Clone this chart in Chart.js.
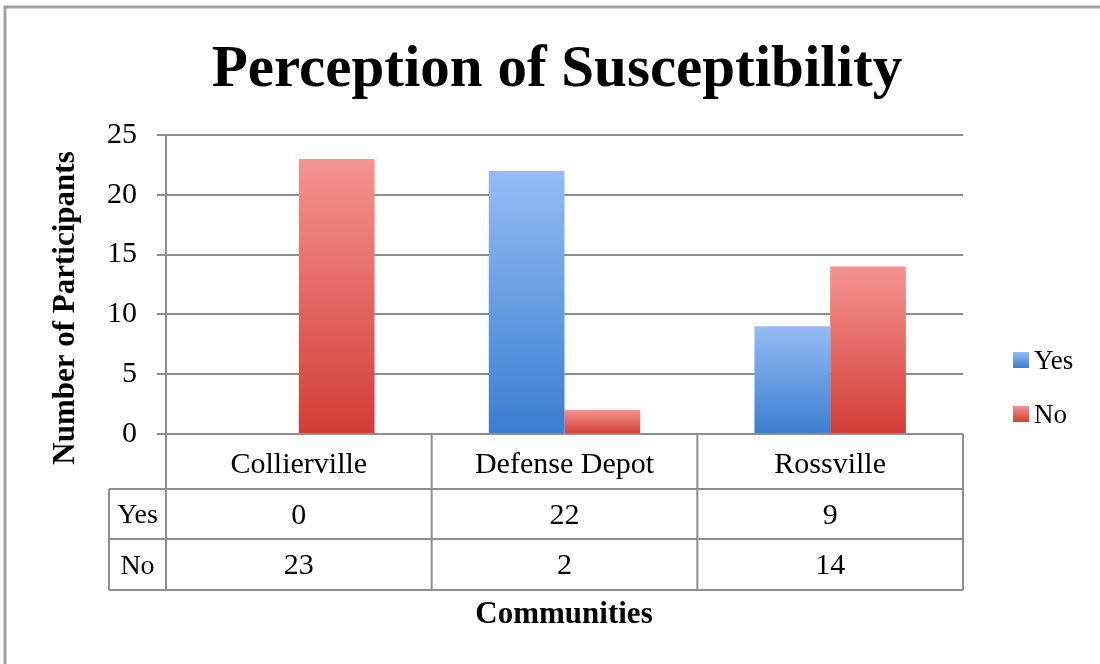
<!DOCTYPE html>
<html>
<head>
<meta charset="utf-8">
<script src="https://cdn.jsdelivr.net/npm/chart.js@4"></script>
<style>
  html, body { margin: 0; padding: 0; background: #fff; }
  canvas { display: block; }
</style>
</head>
<body>
<canvas id="chart" width="1100" height="664"></canvas>
<script>
const chartTitle = "Perception of Susceptibility";
const yAxisTitle = "Number of Participants";
const xAxisTitle = "Communities";
const categories = ["Collierville", "Defense Depot", "Rossville"];
const seriesNames = ["Yes", "No"];
const yesValues = [0, 22, 9];
const noValues = [23, 2, 14];
const yMax = 25;
const yStep = 5;

const serif = "'Liberation Serif', 'Times New Roman', serif";
const gridGray = "#8e8e8e";

const palette = {
    Yes: { top: "#94bcf4", bottom: "#3b7dd0", flat: "#4f8ad8" },
    No: { top: "#f59390", bottom: "#d23d36", flat: "#e0605a" }
};

function barFill(name) {
    return (context) => {
        const chart = context.chart;
        const c = palette[name];
        if (!chart.chartArea || context.raw == null) {
            return c.flat;
        }
        const y = chart.scales.y;
        const top = y.getPixelForValue(context.raw);
        const bottom = y.getPixelForValue(0);
        if (bottom - top < 1) {
            return c.flat;
        }
        const g = chart.ctx.createLinearGradient(0, top, 0, bottom);
        g.addColorStop(0, c.top);
        g.addColorStop(1, c.bottom);
        return g;
    };
}

// title, frame, axis titles, data table and legend drawn around the plot
const decorations = {
    id: "decorations",
    afterDraw(chart) {
        const ctx = chart.ctx;
        const area = chart.chartArea;
        const x = chart.scales.x;
        ctx.save();

        // outer frame (top and left edges visible)
        ctx.strokeStyle = "#a0a0a0";
        ctx.lineWidth = 3;
        ctx.beginPath();
        ctx.moveTo(5, 664);
        ctx.lineTo(5, 7);
        ctx.lineTo(1100, 7);
        ctx.stroke();

        // title
        ctx.fillStyle = "#000";
        ctx.textAlign = "center";
        ctx.textBaseline = "middle";
        ctx.font = "bold 59px " + serif;
        ctx.fillText(chartTitle, 557, 71);

        // y axis title
        ctx.save();
        ctx.translate(66, 308);
        ctx.rotate(-Math.PI / 2);
        ctx.font = "bold 31px " + serif;
        ctx.fillText(yAxisTitle, 0, 0);
        ctx.restore();

        // data table
        const rowH = [55, 50, 51];
        const headTop = area.bottom;
        const row1 = headTop + rowH[0];
        const row2 = row1 + rowH[1];
        const row3 = row2 + rowH[2];
        const labelLeft = 109;
        const half = (x.getPixelForValue(1) - x.getPixelForValue(0)) / 2;
        const edges = [area.left];
        categories.forEach((c, i) => edges.push(x.getPixelForValue(i) + half));

        ctx.strokeStyle = gridGray;
        ctx.lineWidth = 2;
        ctx.beginPath();
        edges.forEach((ex) => {
            ctx.moveTo(ex, headTop);
            ctx.lineTo(ex, row3);
        });
        ctx.moveTo(labelLeft, row1);
        ctx.lineTo(labelLeft, row3);
        [row1, row2, row3].forEach((ry) => {
            ctx.moveTo(labelLeft, ry);
            ctx.lineTo(area.right, ry);
        });
        ctx.stroke();

        ctx.fillStyle = "#000";
        ctx.font = "30px " + serif;
        categories.forEach((c, i) => {
            const cx = x.getPixelForValue(i);
            ctx.fillText(c, cx, headTop + rowH[0] / 2 + 4);
            ctx.fillText(String(yesValues[i]), cx, row1 + rowH[1] / 2 + 2);
            ctx.fillText(String(noValues[i]), cx, row2 + rowH[2] / 2 + 2);
        });
        ctx.font = "28px " + serif;
        ctx.fillText(seriesNames[0], (labelLeft + area.left) / 2, row1 + rowH[1] / 2 + 2);
        ctx.fillText(seriesNames[1], (labelLeft + area.left) / 2, row2 + rowH[2] / 2 + 2);

        // x axis title
        ctx.font = "bold 31px " + serif;
        ctx.fillText(xAxisTitle, 564, 615);

        // legend
        ctx.textAlign = "left";
        ctx.font = "27px " + serif;
        const legendY = [360, 414];
        chart.data.datasets.forEach((ds, i) => {
            const c = palette[ds.label];
            const ly = legendY[i];
            const g = ctx.createLinearGradient(0, ly - 8, 0, ly + 8);
            g.addColorStop(0, c.top);
            g.addColorStop(1, c.bottom);
            ctx.fillStyle = g;
            ctx.fillRect(1013, ly - 8, 16, 16);
            ctx.fillStyle = "#000";
            ctx.fillText(ds.label, 1034, ly + 2);
        });

        ctx.restore();
    }
};

new Chart(document.getElementById("chart"), {
    type: "bar",
    data: {
        labels: categories,
        datasets: [
            { label: seriesNames[0], data: yesValues, backgroundColor: barFill("Yes") },
            { label: seriesNames[1], data: noValues, backgroundColor: barFill("No") }
        ]
    },
    options: {
        responsive: false,
        animation: false,
        devicePixelRatio: 1,
        layout: { padding: { left: 0, right: 137, top: 135, bottom: 230 } },
        datasets: {
            bar: { categoryPercentage: 0.57, barPercentage: 1.0, borderWidth: 0 }
        },
        plugins: {
            legend: { display: false },
            title: { display: false },
            tooltip: { enabled: false }
        },
        scales: {
            x: {
                display: false
            },
            y: {
                min: 0,
                max: yMax,
                afterFit(scale) { scale.width = 166; },
                ticks: {
                    stepSize: yStep,
                    padding: 20,
                    color: "#000",
                    font: { family: serif, size: 30 }
                },
                grid: {
                    color: gridGray,
                    lineWidth: 2,
                    tickLength: 9,
                    drawTicks: true
                },
                border: { display: true, color: gridGray, width: 2 }
            }
        }
    },
    plugins: [decorations]
});
</script>
</body>
</html>
